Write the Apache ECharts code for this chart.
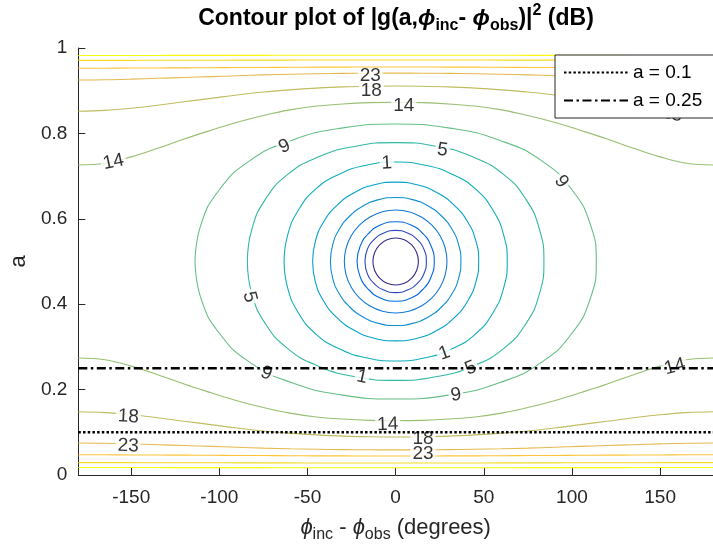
<!DOCTYPE html>
<html><head><meta charset="utf-8">
<script src="https://cdn.jsdelivr.net/npm/echarts@6/dist/echarts.min.js"></script>
<style>html,body{margin:0;padding:0;background:#fff}#c{width:713px;height:552px}</style>
</head><body><div id="c"></div>
<script>
// ---------- data ----------
const phiTicks = [-150, -100, -50, 0, 50, 100, 150];
const refLevels = [0.1, 0.25];
const refNames = ['a = 0.1', 'a = 0.25'];

// closed contours around (0, 0.5), innermost first: [phi, a]
const ring0 = [[-12.9,.5],[-11.9,.521],[-9.1,.539],[-4.9,.551],[0,.555],[4.9,.551],[9.1,.539],[11.9,.521],[12.9,.5],[11.9,.479],[9.1,.461],[4.9,.449],[0,.445],[-4.9,.449],[-9.1,.461],[-11.9,.479],[-12.9,.5]];
const ring1 = [[-17.4,.5],[-16.1,.528],[-12.3,.551],[-6.7,.567],[0,.573],[6.7,.567],[12.3,.551],[16.1,.528],[17.4,.5],[16.1,.472],[12.3,.449],[6.7,.433],[0,.427],[-6.7,.433],[-12.3,.449],[-16.1,.472],[-17.4,.5]];
const ring2 = [[-21.9,.5],[-20.2,.535],[-15.5,.565],[-8.4,.586],[0,.593],[8.4,.586],[15.5,.565],[20.2,.535],[21.9,.5],[20.2,.465],[15.5,.435],[8.4,.414],[0,.407],[-8.4,.414],[-15.5,.435],[-20.2,.465],[-21.9,.5]];
const ring3 = [[-29.1,.5],[-28.11,.5312],[-25.2,.5603],[-20.57,.5853],[-14.55,.6044],[-7.54,.6165],[0,.6206],[7.54,.6165],[14.55,.6044],[20.57,.5853],[25.2,.5603],[28.11,.5312],[29.1,.5],[28.11,.4688],[25.2,.4397],[20.57,.4147],[14.55,.3956],[7.54,.3835],[0,.3794],[-7.54,.3835],[-14.55,.3956],[-20.57,.4147],[-25.2,.4397],[-28.11,.4688],[-29.1,.5]];
const ring4 = [[-37,.5],[-35.74,.5389],[-32.04,.575],[-26.16,.606],[-18.5,.6299],[-9.58,.6449],[0,.65],[9.58,.6449],[18.5,.6299],[26.16,.606],[32.04,.575],[35.74,.5389],[37,.5],[35.74,.4611],[32.04,.425],[26.16,.394],[18.5,.3701],[9.58,.3551],[0,.35],[-9.58,.3551],[-18.5,.3701],[-26.16,.394],[-32.04,.425],[-35.74,.4611],[-37,.5]];
const ring5 = [[-47.1,.5],[-45.5,.5482],[-40.79,.593],[-33.3,.6315],[-23.55,.6611],[-12.2,.6797],[0,.686],[12.2,.6797],[23.55,.6611],[33.3,.6315],[40.79,.593],[45.5,.5482],[47.1,.5],[45.5,.4518],[40.79,.407],[33.3,.3685],[23.55,.3389],[12.2,.3203],[0,.314],[-12.2,.3203],[-23.55,.3389],[-33.3,.3685],[-40.79,.407],[-45.5,.4518],[-47.1,.5]];
const ring1dB = [[-63.3,.5],[-61.27,.5617],[-55.39,.6188],[-45.7,.6682],[-32.28,.7039],[-16.77,.7255],[0,.733],[16.77,.7255],[32.28,.7039],[45.7,.6682],[55.39,.6188],[61.27,.5617],[63.3,.5],[61.27,.4383],[55.39,.3812],[45.7,.3318],[32.28,.2961],[16.77,.2745],[0,.267],[-16.77,.2745],[-32.28,.2961],[-45.7,.3318],[-55.39,.3812],[-61.27,.4383],[-63.3,.5]];
const ring5dB = [[-84.1,.5],[-81.58,.5752],[-74,.6448],[-61.39,.7033],[-43.73,.7451],[-22.71,.7701],[0,.7785],[22.71,.7701],[43.73,.7451],[61.39,.7033],[74,.6448],[81.58,.5752],[84.1,.5],[81.58,.4248],[74,.3552],[61.39,.2967],[43.73,.2549],[22.71,.2299],[0,.2215],[-22.71,.2299],[-43.73,.2549],[-61.39,.2967],[-74,.3552],[-81.58,.4248],[-84.1,.5]];
const ring9dB = [[-113.8,.5],[-110.4,.5869],[-100.1,.6674],[-83.07,.7351],[-59.18,.7834],[-30.73,.8123],[0,.822],[30.73,.8123],[59.18,.7834],[83.07,.7351],[100.1,.6674],[110.4,.5869],[113.8,.5],[110.4,.4131],[100.1,.3326],[83.07,.2649],[59.18,.2166],[30.73,.1877],[0,.178],[-30.73,.1877],[-59.18,.2166],[-83.07,.2649],[-100.1,.3326],[-110.4,.4131],[-113.8,.5]];

// open contours across the whole phi range, sampled on phiGrid
const phiGrid = [-180,-165,-150,-135,-120,-105,-90,-75,-60,-45,-30,-15,0,15,30,45,60,75,90,105,120,135,150,165,180];
const lvl14Low  = [0.274,0.270,0.255,0.235,0.213,0.193,0.174,0.158,0.145,0.136,0.131,0.128,0.127,0.128,0.131,0.136,0.145,0.158,0.174,0.193,0.213,0.235,0.255,0.270,0.274];
const lvl14High = [0.726,0.730,0.745,0.765,0.787,0.807,0.826,0.842,0.855,0.864,0.869,0.872,0.873,0.872,0.869,0.864,0.855,0.842,0.826,0.807,0.787,0.765,0.745,0.730,0.726];
const lvl18Low  = [0.148,0.146,0.141,0.134,0.126,0.118,0.110,0.103,0.098,0.094,0.091,0.0895,0.089,0.0895,0.091,0.094,0.098,0.103,0.110,0.118,0.126,0.134,0.141,0.146,0.148];
const lvl18High = [0.852,0.854,0.859,0.866,0.874,0.882,0.890,0.897,0.902,0.906,0.909,0.9105,0.911,0.9105,0.909,0.906,0.902,0.897,0.890,0.882,0.874,0.866,0.859,0.854,0.852];
const lvl23Low  = [0.075,0.0745,0.073,0.071,0.069,0.067,0.065,0.063,0.0615,0.0603,0.0595,0.059,0.0588,0.059,0.0595,0.0603,0.0615,0.063,0.065,0.067,0.069,0.071,0.073,0.0745,0.075];
const lvl23High = [0.925,0.9255,0.927,0.929,0.931,0.933,0.935,0.937,0.9385,0.9397,0.9405,0.941,0.9412,0.941,0.9405,0.9397,0.9385,0.937,0.935,0.933,0.931,0.929,0.927,0.9255,0.925];
const lvl27Low  = [0.0475,0.0474,0.047,0.0467,0.0465,0.0462,0.0458,0.0455,0.0452,0.0449,0.0447,0.0446,0.0445,0.0446,0.0447,0.0449,0.0452,0.0455,0.0458,0.0462,0.0465,0.0467,0.047,0.0474,0.0475];
const lvl27High = [0.9525,0.9526,0.953,0.9533,0.9535,0.9538,0.9542,0.9545,0.9548,0.9551,0.9553,0.9554,0.9555,0.9554,0.9553,0.9551,0.9548,0.9545,0.9542,0.9538,0.9535,0.9533,0.953,0.9526,0.9525];
const lvl32Low  = [0.029,0.029,0.0289,0.0288,0.0287,0.0286,0.0285,0.0284,0.0283,0.0282,0.0281,0.0281,0.028,0.0281,0.0281,0.0282,0.0283,0.0284,0.0285,0.0286,0.0287,0.0288,0.0289,0.029,0.029];
const lvl32High = [0.971,0.971,0.9711,0.9712,0.9713,0.9714,0.9715,0.9716,0.9717,0.9718,0.9719,0.9719,0.972,0.9719,0.9719,0.9718,0.9717,0.9716,0.9715,0.9714,0.9713,0.9712,0.9711,0.971,0.971];
const lvl36Low  = [0.0175,0.0175,0.0174,0.0174,0.0173,0.0173,0.0172,0.0172,0.0171,0.0171,0.017,0.017,0.017,0.017,0.017,0.0171,0.0171,0.0172,0.0172,0.0173,0.0173,0.0174,0.0174,0.0175,0.0175];
const lvl36High = [0.9825,0.9825,0.9826,0.9826,0.9827,0.9827,0.9828,0.9828,0.9829,0.9829,0.983,0.983,0.983,0.983,0.983,0.9829,0.9829,0.9828,0.9828,0.9827,0.9827,0.9826,0.9826,0.9825,0.9825];

// contour labels: [phi, a, text]
const labelPos = [
  [-14.4,0.934,'23'], [-13.8,0.899,'18'], [4.6,0.865,'14'], [-160.1,0.733,'14'], [156.6,0.845,'18'],
  [-63,0.769,'9'], [-5,0.730,'1'], [26.5,0.761,'5'], [93.9,0.687,'9'], [-82.8,0.417,'5'],
  [-19.1,0.2295,'1'], [27.6,0.285,'1'], [42.6,0.25,'5'], [-73.3,0.238,'9'], [34.2,0.187,'9'],
  [-4.5,0.118,'14'], [158.4,0.2537,'14'], [-151.7,0.1366,'18'], [15.5,0.086,'18'],
  [-151.7,0.068,'23'], [15.5,0.0508,'23']
];
const labelAngle = [0, 0, 0, 12, -12, 25, 3, -8, -55, -75, -12, 20, 22, -22, 8, 2, 15, -3, 0, -2, 0];

// ---------- styling ----------
const palette = ['#352a87','#2e47bf','#0268e1','#1079d9','#108ed2','#06a2cb','#0faeb9','#32b8a1','#65be86','#97be71','#c0bc60','#e5b950','#fec337','#f6db23','#f9fa0e'];
const FONT = 'Liberation Sans';
const AX = '#262626';

const rings = [ring0, ring1, ring2, ring3, ring4, ring5, ring1dB, ring5dB, ring9dB];
const openLevels = [[lvl14Low, lvl14High],[lvl18Low, lvl18High],[lvl23Low, lvl23High],[lvl27Low, lvl27High],[lvl32Low, lvl32High],[lvl36Low, lvl36High]];

const series = [];
rings.forEach((r, i) => {
  series.push({type:'line', data:r, smooth:0.5, symbol:'none', silent:true, z:2,
    lineStyle:{width:1.1, color:palette[i]}, animation:false});
});
openLevels.forEach((pair, k) => {
  pair.forEach(vals => {
    series.push({type:'line', data: phiGrid.map((p, j) => [p, vals[j]]), smooth:0.4, symbol:'none', silent:true, z:2,
      lineStyle:{width:1.1, color:palette[9 + k]}, animation:false});
  });
});
series.push({type:'scatter', symbolSize:1, silent:true, z:3, animation:false,
  itemStyle:{color:'rgba(0,0,0,0)'},
  label:{show:true, position:'inside', fontFamily:FONT, fontSize:19, color:'#000',
    backgroundColor:'#fff', padding:[0,2], lineHeight:14},
  data: labelPos.map((d, i) => ({value:[d[0], d[1]], label:{formatter:d[2], rotate:labelAngle[i]}}))
});
const dashTypes = [[2.5,2.2],[9,3.5,2.5,3.5]];
refLevels.forEach((lv, i) => {
  series.push({type:'line', name:refNames[i], data:[[-180, lv],[180, lv]], symbol:'none', silent:true, z:5,
    itemStyle:{color:'#000', opacity:0},
    lineStyle:{width:2.5, color:'#000', type:dashTypes[i]}, animation:false});
});

const chart = echarts.init(document.getElementById('c'), null, {renderer:'canvas'});
chart.setOption({
  animation:false,
  backgroundColor:'#fff',
  grid:{left:75, top:48, width:642, height:427, containLabel:false},
  xAxis:{type:'value', min:-180, max:180,
    axisLine:{show:true, onZero:false, lineStyle:{color:AX, width:1}},
    axisTick:{show:true, inside:true, length:7, customValues:phiTicks, lineStyle:{color:AX}},
    axisLabel:{customValues:phiTicks, fontFamily:FONT, fontSize:19, color:AX, margin:13},
    splitLine:{show:false},
    name:'{i|ϕ}{s|inc}{n| - }{i|ϕ}{s|obs}{n| (degrees)}', nameLocation:'middle', nameGap:37,
    nameTextStyle:{fontFamily:FONT, fontSize:22, color:AX,
      rich:{n:{fontFamily:FONT, fontSize:22, color:AX},
            i:{fontFamily:FONT, fontSize:22, color:AX, fontStyle:'italic'},
            s:{fontFamily:FONT, fontSize:16, color:AX, padding:[15,0,0,0]}}}
  },
  yAxis:{type:'value', min:0, max:1, interval:0.2,
    axisLine:{show:true, onZero:false, lineStyle:{color:AX, width:1}},
    axisTick:{show:true, inside:true, length:7, lineStyle:{color:AX}},
    axisLabel:{fontFamily:FONT, fontSize:19, color:AX, margin:11},
    splitLine:{show:false},
    name:'a', nameLocation:'middle', nameGap:48, nameRotate:90,
    nameTextStyle:{fontFamily:FONT, fontSize:22, color:AX}
  },
  legend:{data:refNames, orient:'vertical', left:555, top:55, selectedMode:false,
    backgroundColor:'#fff', borderColor:AX, borderWidth:1, borderRadius:0,
    padding:[8,12,8,8], itemGap:9, itemWidth:64, itemHeight:14,
    itemStyle:{opacity:0, borderWidth:0},
    textStyle:{fontFamily:FONT, fontSize:19, color:'#000'}, z:10},
  graphic:[{type:'text', x:396, y:3, z:100, silent:true,
    style:{text:'{b|Contour plot of |g(a,}{i|ϕ}{s|inc}{b|- }{i|ϕ}{s|obs}{b|)|}{p|2}{b| (dB)}',
      align:'center', verticalAlign:'top', fill:'#000',
      rich:{b:{fontFamily:FONT, fontWeight:'bold', fontSize:23, fill:'#000'},
            i:{fontFamily:FONT, fontWeight:'bold', fontStyle:'italic', fontSize:23, fill:'#000'},
            s:{fontFamily:FONT, fontWeight:'bold', fontSize:16, fill:'#000', padding:[15,0,0,0]},
            p:{fontFamily:FONT, fontWeight:'bold', fontSize:16, fill:'#000', padding:[0,0,15,0]}}}}],
  series: series
});
</script></body></html>
